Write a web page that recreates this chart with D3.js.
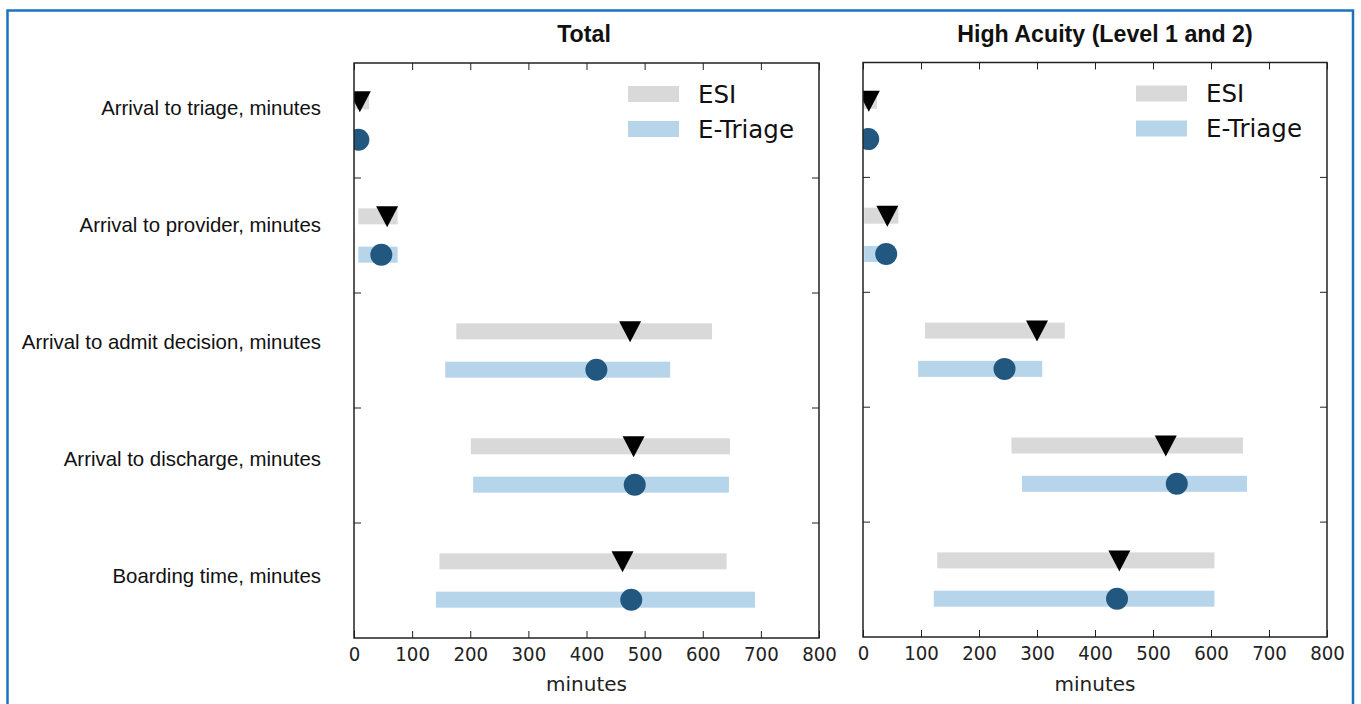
<!DOCTYPE html>
<html>
<head>
<meta charset="utf-8">
<script src="https://cdn.jsdelivr.net/npm/d3@7"></script>
<style>
  html, body { margin: 0; padding: 0; background: #fff; }
  svg { display: block; }
</style>
</head>
<body>
<svg id="chart" width="1361" height="704"></svg>
<script>
// ---------------- DATA ----------------
const categories = [
  "Arrival to triage, minutes",
  "Arrival to provider, minutes",
  "Arrival to admit decision, minutes",
  "Arrival to discharge, minutes",
  "Boarding time, minutes"
];
const seriesNames = ["ESI", "E-Triage"];
const panelTitles = ["Total", "High Acuity (Level 1 and 2)"];
const xTickValues = [0, 100, 200, 300, 400, 500, 600, 700, 800];
const xAxisLabel = "minutes";

// Total panel
const totalEsiLow     = [0, 7.5, 176, 201, 147];
const totalEsiHigh    = [26, 75, 616, 647, 641];
const totalEsiMedian  = [10, 57, 475, 481, 462];
const totalEtLow      = [0, 7.5, 157, 205, 141];
const totalEtHigh     = [15, 75, 544, 645, 690];
const totalEtMedian   = [7.5, 47, 417, 483, 477];

// High acuity panel
const highEsiLow      = [0, 2, 107, 256, 128];
const highEsiHigh     = [24, 61, 348, 655, 606];
const highEsiMedian   = [10, 42, 300, 522, 442];
const highEtLow       = [0, 2, 95, 274, 122];
const highEtHigh      = [15, 55, 309, 662, 606];
const highEtMedian    = [9, 40, 244, 541, 438];

// ---------------- BUILD ----------------
function buildRows(esiLow, esiHigh, esiMed, etLow, etHigh, etMed) {
  const rows = [];
  categories.forEach((c, i) => {
    rows.push({cat: c, series: "ESI", low: esiLow[i], high: esiHigh[i], med: esiMed[i]});
    rows.push({cat: c, series: "E-Triage", low: etLow[i], high: etHigh[i], med: etMed[i]});
  });
  return rows;
}
const panelRows = [
  buildRows(totalEsiLow, totalEsiHigh, totalEsiMedian, totalEtLow, totalEtHigh, totalEtMedian),
  buildRows(highEsiLow, highEsiHigh, highEsiMedian, highEtLow, highEtHigh, highEtMedian)
];

const colors = {bar: {"ESI": "#d9d9d9", "E-Triage": "#b7d5ea"}, circle: "#22587f", tri: "#000000"};
const layout = [
  {left: 354, right: 819, top: 63, bottom: 638, titleX: 584},
  {left: 863, right: 1327, top: 62.5, bottom: 637, titleX: 1105}
];

const svg = d3.select("#chart");

// outer blue frame
svg.append("rect")
  .attr("x", 7.5).attr("y", 10.5).attr("width", 1345.5).attr("height", 720)
  .attr("fill", "none").attr("stroke", "#1a73c1").attr("stroke-width", 2.5);

// Category labels (left)
const labelY = d3.scalePoint().domain(categories).range([115, 583]);
svg.append("g").selectAll("text").data(categories).join("text")
  .attr("x", 321).attr("y", d => labelY(d))
  .attr("text-anchor", "end")
  .attr("font-family", "Liberation Sans, Arial, sans-serif")
  .attr("font-size", 20.4).attr("fill", "#111")
  .text(d => d);

panelRows.forEach((rows, pi) => {
  const L = layout[pi];
  const x = d3.scaleLinear().domain([0, 800]).range([L.left, L.right]);
  const y = d3.scaleBand().domain(categories).range([L.top, L.bottom]).paddingInner(0).paddingOuter(0);
  const ySub = d3.scalePoint().domain(seriesNames).range([0, y.bandwidth()]).padding(1);
  const g = svg.append("g");

  const clipId = "clip" + pi;
  svg.append("clipPath").attr("id", clipId).append("rect")
    .attr("x", L.left).attr("y", L.top).attr("width", L.right - L.left).attr("height", L.bottom - L.top);

  const plot = g.append("g").attr("clip-path", `url(#${clipId})`);
  const barH = 16;
  plot.selectAll("rect.bar").data(rows).join("rect")
    .attr("class", "bar")
    .attr("x", d => x(d.low))
    .attr("width", d => x(d.high) - x(d.low))
    .attr("y", d => y(d.cat) + ySub(d.series) - barH / 2)
    .attr("height", barH)
    .attr("fill", d => colors.bar[d.series]);

  plot.selectAll("path.tri").data(rows.filter(d => d.series === "ESI")).join("path")
    .attr("class", "tri")
    .attr("transform", d => `translate(${x(d.med)},${y(d.cat) + ySub(d.series)})`)
    .attr("d", "M-11,-10L11,-10L0,11Z")
    .attr("fill", colors.tri);

  plot.selectAll("circle.med").data(rows.filter(d => d.series === "E-Triage")).join("circle")
    .attr("class", "med")
    .attr("cx", d => x(d.med))
    .attr("cy", d => y(d.cat) + ySub(d.series))
    .attr("r", 11)
    .attr("fill", colors.circle);

  // axes
  const tickLen = 7;
  const bottomAxis = d3.axisBottom(x).tickValues(xTickValues).tickSizeInner(-tickLen).tickSizeOuter(0).tickPadding(8.5).tickFormat(d3.format("d"));
  const topAxis = d3.axisTop(x).tickValues(xTickValues).tickSizeInner(-tickLen).tickSizeOuter(0).tickFormat("");
  const boundaries = categories.slice(1);
  const leftAxis = d3.axisLeft(y).tickValues(boundaries).tickSizeInner(-tickLen).tickSizeOuter(0).tickFormat("").offset(0);
  const rightAxis = d3.axisRight(y).tickValues(boundaries).tickSizeInner(-tickLen).tickSizeOuter(0).tickFormat("").offset(0);

  const gb = g.append("g").attr("transform", `translate(0,${L.bottom})`).call(bottomAxis);
  const gt = g.append("g").attr("transform", `translate(0,${L.top})`).call(topAxis);
  // shift band ticks to band boundaries (top of band)
  const gl = g.append("g").attr("transform", `translate(${L.left},${-y.bandwidth()/2})`).call(leftAxis);
  const gr = g.append("g").attr("transform", `translate(${L.right},${-y.bandwidth()/2})`).call(rightAxis);
  [gb, gt, gl, gr].forEach(a => {
    a.select(".domain").remove();
    a.selectAll(".tick line").attr("stroke", "#222").attr("stroke-width", 1);
  });
  gb.selectAll(".tick text")
    .attr("font-family", "DejaVu Sans, sans-serif")
    .attr("font-size", 20)
    .attr("fill", "#222");
  // condense tick labels to match the reference glyph widths
  const sample = gb.selectAll(".tick text").nodes().slice(-1)[0];
  const w = sample.getComputedTextLength();
  const sx = Math.min(1, 34.7 / w);
  gb.selectAll(".tick text").attr("transform", `scale(${sx},1)`);

  // spines
  g.append("rect")
    .attr("x", L.left).attr("y", L.top)
    .attr("width", L.right - L.left).attr("height", L.bottom - L.top)
    .attr("fill", "none").attr("stroke", "#222").attr("stroke-width", 1.5);

  // title
  svg.append("text")
    .attr("x", L.titleX).attr("y", 41.5)
    .attr("text-anchor", "middle")
    .attr("font-family", "Liberation Sans, Arial, sans-serif")
    .attr("font-weight", "bold").attr("font-size", 23.2).attr("fill", "#111")
    .text(panelTitles[pi]);

  // x label
  svg.append("text")
    .attr("x", (L.left + L.right) / 2).attr("y", 691)
    .attr("text-anchor", "middle")
    .attr("font-family", "DejaVu Sans, sans-serif")
    .attr("font-size", 20).attr("fill", "#222")
    .text(xAxisLabel);

  // legend
  const lg = g.append("g").attr("transform", `translate(${L.right - 191},${L.top + 23})`);
  const legY = d3.scalePoint().domain(seriesNames).range([0, 35]);
  lg.selectAll("rect").data(seriesNames).join("rect")
    .attr("x", 0).attr("y", d => legY(d)).attr("width", 51).attr("height", 16)
    .attr("fill", d => colors.bar[d]);
  lg.selectAll("text").data(seriesNames).join("text")
    .attr("x", 70).attr("y", d => legY(d) + 16.5)
    .attr("font-family", "DejaVu Sans, sans-serif")
    .attr("font-size", 24.5).attr("fill", "#111")
    .text(d => d);
});
</script>
</body>
</html>
